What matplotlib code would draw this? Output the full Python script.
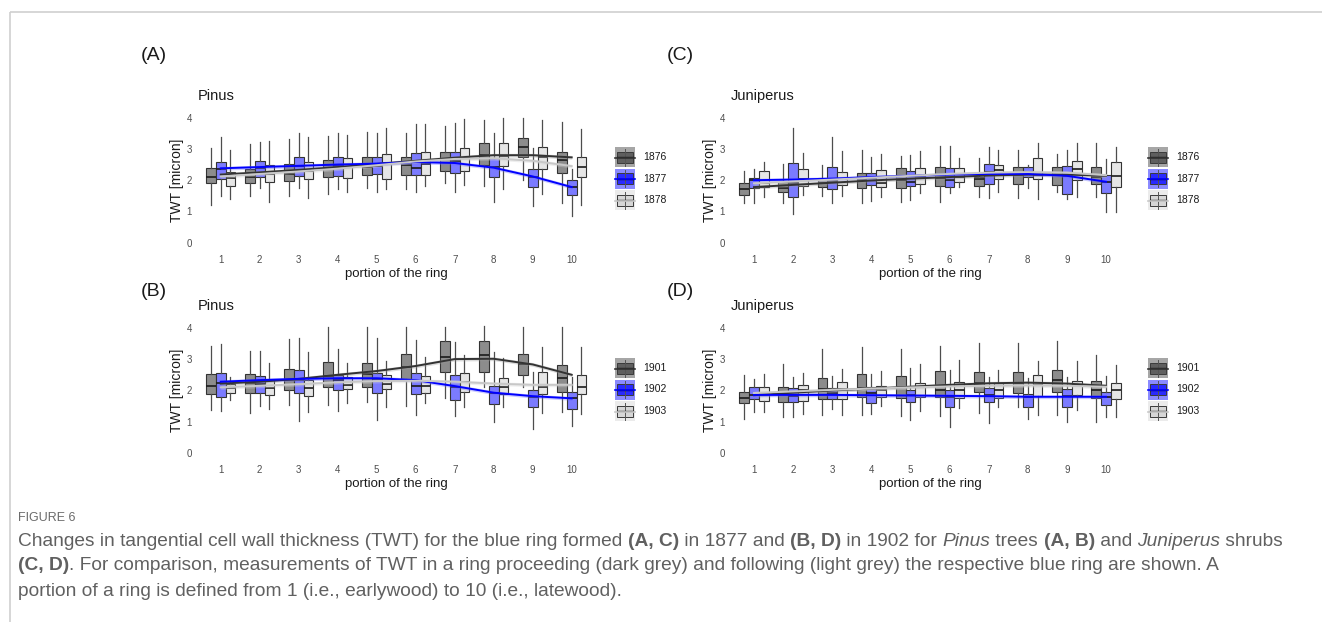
import matplotlib
matplotlib.use("Agg")
import matplotlib.pyplot as plt
from matplotlib.font_manager import FontProperties

plt.rcParams['font.family'] = ['Liberation Sans', 'DejaVu Sans']

W, H = 1322, 622

portions = [1, 2, 3, 4, 5, 6, 7, 8, 9, 10]

# box stats per portion: (lower whisker, q1, median, q3, upper whisker)
# (A) Pinus, 1876 / 1877 / 1878
A_1876 = [(1.21, 1.90, 2.09, 2.40, 3.04), (1.49, 1.90, 2.11, 2.35, 3.16), (1.49, 1.97, 2.19, 2.51, 3.31),
          (1.55, 2.09, 2.40, 2.65, 3.41), (1.74, 2.17, 2.43, 2.73, 3.55), (1.72, 2.17, 2.49, 2.73, 3.52),
          (1.90, 2.29, 2.67, 2.91, 3.73), (1.81, 2.49, 2.81, 3.20, 3.93), (2.00, 2.75, 3.05, 3.34, 3.98),
          (1.26, 2.24, 2.65, 2.91, 3.87)]
A_1877 = [(1.49, 2.03, 2.36, 2.57, 3.37), (1.74, 2.11, 2.40, 2.62, 3.23), (1.74, 2.14, 2.45, 2.73, 3.52),
          (1.71, 2.14, 2.45, 2.73, 3.50), (1.63, 2.20, 2.45, 2.73, 3.50), (1.63, 2.17, 2.38, 2.88, 3.80),
          (1.63, 2.23, 2.60, 2.91, 3.84), (1.31, 2.11, 2.43, 2.70, 3.52), (1.17, 1.79, 2.11, 2.35, 3.02),
          (0.85, 1.53, 1.79, 2.01, 2.35)]
A_1878 = [(1.41, 1.81, 2.08, 2.27, 2.97), (1.29, 1.93, 2.19, 2.49, 3.25), (1.42, 2.03, 2.30, 2.57, 3.39),
          (1.63, 2.06, 2.43, 2.70, 3.45), (1.71, 2.03, 2.54, 2.84, 3.68), (1.81, 2.17, 2.52, 2.91, 3.80),
          (1.85, 2.29, 2.70, 3.02, 3.95), (1.72, 2.45, 2.78, 3.18, 3.98), (1.56, 2.35, 2.73, 3.05, 3.93),
          (1.21, 2.09, 2.41, 2.73, 3.63)]
A_smooth = [[2.18, 2.25, 2.33, 2.42, 2.52, 2.62, 2.72, 2.80, 2.80, 2.73],
            [2.38, 2.42, 2.46, 2.50, 2.53, 2.58, 2.55, 2.40, 2.12, 1.78],
            [2.12, 2.20, 2.28, 2.37, 2.48, 2.60, 2.68, 2.70, 2.62, 2.45]]

# (B) Pinus, 1901 / 1902 / 1903
B_1901 = [(1.38, 1.89, 2.15, 2.51, 3.42), (1.29, 1.93, 2.23, 2.51, 3.27), (1.54, 2.02, 2.33, 2.68, 3.63),
          (1.54, 2.12, 2.46, 2.92, 4.01), (1.64, 2.12, 2.53, 2.89, 4.01), (1.51, 2.36, 2.74, 3.15, 4.01),
          (1.75, 2.60, 3.08, 3.58, 4.03), (2.12, 2.60, 3.13, 3.58, 4.05), (2.10, 2.49, 2.84, 3.15, 4.01),
          (1.33, 1.96, 2.39, 2.81, 4.01)]
B_1902 = [(1.36, 1.80, 2.25, 2.55, 3.48), (1.51, 1.91, 2.20, 2.46, 3.27), (1.04, 1.91, 2.33, 2.65, 3.68),
          (1.36, 2.02, 2.33, 2.49, 3.31), (1.06, 1.93, 2.36, 2.55, 3.66), (1.21, 1.88, 2.15, 2.57, 3.61),
          (1.19, 1.70, 2.10, 2.49, 3.55), (1.01, 1.57, 1.91, 2.15, 3.24), (0.76, 1.46, 1.80, 2.02, 2.60),
          (0.87, 1.41, 1.75, 1.96, 2.42)]
B_1903 = [(1.70, 1.91, 2.07, 2.20, 2.42), (1.41, 1.86, 2.09, 2.33, 2.89), (1.33, 1.82, 2.09, 2.33, 3.24),
          (1.59, 2.04, 2.18, 2.44, 2.86), (1.46, 2.04, 2.20, 2.49, 2.94), (1.59, 1.93, 2.15, 2.46, 3.08),
          (1.49, 1.96, 2.28, 2.55, 3.13), (1.46, 1.89, 2.12, 2.39, 3.02), (1.29, 1.89, 2.10, 2.60, 3.40),
          (1.25, 1.89, 2.10, 2.49, 3.37)]
B_smooth = [[2.22, 2.28, 2.37, 2.50, 2.62, 2.78, 3.00, 3.01, 2.83, 2.50],
            [2.28, 2.33, 2.37, 2.39, 2.39, 2.33, 2.14, 1.93, 1.82, 1.75],
            [2.10, 2.15, 2.20, 2.26, 2.30, 2.31, 2.28, 2.22, 2.18, 2.18]]

# (C) Juniperus, 1876 / 1877 / 1878
C_1876 = [(1.28, 1.53, 1.71, 1.90, 2.30), (1.26, 1.61, 1.74, 1.95, 2.51), (1.49, 1.77, 1.90, 2.06, 2.49),
          (1.26, 1.74, 2.00, 2.24, 2.97), (1.31, 1.74, 2.00, 2.38, 2.77), (1.31, 1.81, 2.06, 2.41, 3.09),
          (1.47, 1.81, 2.03, 2.11, 2.70), (1.42, 1.88, 2.17, 2.41, 2.97), (1.63, 1.85, 2.17, 2.41, 2.84),
          (1.47, 1.88, 2.11, 2.41, 3.18)]
C_1877 = [(1.28, 1.74, 2.00, 2.08, 2.35), (0.91, 1.47, 1.90, 2.56, 3.66), (1.26, 1.71, 1.97, 2.43, 3.37),
          (1.34, 1.85, 2.08, 2.24, 2.73), (1.37, 1.81, 1.95, 2.30, 2.81), (1.58, 1.77, 2.00, 2.38, 3.09),
          (1.42, 1.88, 2.27, 2.52, 3.07), (1.74, 2.11, 2.27, 2.41, 2.49), (1.39, 1.56, 2.13, 2.45, 2.97),
          (0.99, 1.58, 1.95, 2.17, 2.67)]
C_1878 = [(1.47, 1.79, 1.90, 2.29, 2.59), (1.53, 1.81, 2.03, 2.35, 2.88), (1.49, 1.85, 2.03, 2.27, 2.93),
          (1.47, 1.77, 1.92, 2.33, 2.84), (1.58, 1.88, 2.11, 2.38, 2.93), (1.77, 1.95, 2.11, 2.38, 2.72),
          (1.63, 2.03, 2.33, 2.49, 2.97), (1.39, 2.03, 2.17, 2.72, 3.18), (1.47, 2.01, 2.35, 2.61, 3.18),
          (0.99, 1.77, 2.13, 2.59, 3.07)]
C_smooth = [[1.78, 1.85, 1.92, 1.99, 2.05, 2.10, 2.15, 2.18, 2.18, 2.14],
            [2.00, 2.02, 2.05, 2.10, 2.14, 2.18, 2.20, 2.20, 2.14, 1.95],
            [1.90, 1.96, 2.02, 2.08, 2.14, 2.20, 2.24, 2.26, 2.24, 2.16]]

# (D) Juniperus, 1901 / 1902 / 1903
D_1901 = [(1.08, 1.61, 1.75, 1.96, 2.49), (1.15, 1.64, 1.91, 2.12, 2.84), (1.22, 1.72, 2.04, 2.41, 3.31),
          (1.22, 1.78, 2.07, 2.51, 3.37), (1.19, 1.75, 2.12, 2.46, 3.31), (1.19, 1.78, 2.02, 2.63, 3.42),
          (1.27, 1.96, 2.23, 2.60, 3.52), (1.46, 1.93, 2.25, 2.60, 3.52), (1.22, 1.96, 2.33, 2.65, 3.59),
          (1.01, 1.75, 2.02, 2.31, 3.13)]
D_1902 = [(1.33, 1.72, 1.86, 2.10, 2.36), (1.15, 1.64, 1.82, 2.07, 2.42), (1.40, 1.72, 1.91, 2.07, 2.46),
          (1.25, 1.61, 1.91, 2.10, 2.53), (1.06, 1.64, 1.86, 2.02, 2.73), (0.83, 1.49, 1.80, 2.02, 2.65),
          (0.98, 1.64, 1.86, 2.07, 2.42), (1.08, 1.46, 1.80, 1.89, 2.39), (1.01, 1.49, 1.82, 2.04, 2.42),
          (1.17, 1.54, 1.80, 1.96, 2.46)]
D_1903 = [(1.31, 1.68, 1.91, 2.12, 2.53), (1.25, 1.68, 2.02, 2.18, 2.55), (1.22, 1.72, 2.04, 2.28, 2.67),
          (1.51, 1.78, 2.02, 2.14, 2.62), (1.36, 1.78, 2.10, 2.25, 2.84), (1.43, 1.75, 2.02, 2.28, 2.97),
          (1.49, 1.75, 2.02, 2.25, 2.65), (1.22, 1.82, 2.18, 2.49, 2.95), (1.38, 1.86, 2.18, 2.31, 2.95),
          (1.15, 1.72, 2.02, 2.25, 2.81)]
D_smooth = [[1.85, 1.93, 2.00, 2.06, 2.12, 2.18, 2.23, 2.25, 2.22, 2.15],
            [1.86, 1.86, 1.86, 1.85, 1.84, 1.83, 1.82, 1.80, 1.80, 1.80],
            [1.92, 1.97, 2.02, 2.06, 2.10, 2.13, 2.15, 2.16, 2.15, 2.12]]

# half-width of the smoother's confidence band
band = 0.06

years_AC = ['1876', '1877', '1878']
years_BD = ['1901', '1902', '1903']

OFFSETS = [-0.25, 0.0, 0.25]
BOX_FILL = ['#8c8c8c', '#7b7bff', '#e6e6e6']
LINE_COL = ['#333333', '#0000ff', '#c8c8c8']
RIB_COL = ['#999999', '#6666ff', '#d0d0d0']
KEY_BG = ['#a6a6a6', '#8a8aff', '#ebebeb']
KEY_BOX = ['#5f5f5f', '#2a2aff', '#d6d6d6']
TICK_COL = '#4d4d4d'

fig = plt.figure(figsize=(W / 100, H / 100), dpi=100)


def px_axes(left, top, right, bottom):
    return fig.add_axes([left / W, 1 - bottom / H, (right - left) / W, (bottom - top) / H])


def to_stats(rows):
    return [dict(whislo=r[0], q1=r[1], med=r[2], q3=r[3], whishi=r[4], fliers=[]) for r in rows]


def draw_panel(ax, groups, smooths):
    for k, rows in enumerate(groups):
        pos = [p + OFFSETS[k] for p in portions]
        ax.bxp(to_stats(rows), positions=pos, widths=0.25, patch_artist=True,
               showcaps=False, showfliers=False, manage_ticks=False,
               boxprops=dict(facecolor=BOX_FILL[k], edgecolor='#333333', linewidth=0.8),
               whiskerprops=dict(color='#4d4d4d', linewidth=0.9),
               medianprops=dict(color='#1a1a1a', linewidth=1.2))
    for k, sm in enumerate(smooths):
        ax.fill_between(portions, [s - band for s in sm], [s + band for s in sm],
                        color=RIB_COL[k], alpha=0.35, lw=0, zorder=3)
        ax.plot(portions, sm, color=LINE_COL[k], lw=1.4, zorder=4)
    ax.set_xlim(0.4, 10.6)
    ax.set_ylim(-0.2, 4.2)
    ax.set_xticks(portions)
    ax.set_yticks([0, 1, 2, 3, 4])
    ax.tick_params(length=0, labelsize=7, colors=TICK_COL, pad=4)
    for s in ax.spines.values():
        s.set_visible(False)
    ax.set_facecolor('none')
    ax.set_xlabel('portion of the ring', fontsize=9.5, color='#1a1a1a')
    ax.set_ylabel('TWT [micron]', fontsize=10, color='#1a1a1a')
    ax.xaxis.set_label_coords(0.5, -0.18)
    ax.xaxis.label.set_va('center')
    ax.yaxis.set_label_coords(-0.051, 0.5)
    ax.yaxis.label.set_va('center')


# overlay in pixel coordinates for borders, labels, legends, caption
ov = fig.add_axes([0, 0, 1, 1])
ov.set_xlim(0, W)
ov.set_ylim(H, 0)
ov.axis('off')

ov.plot([10, W], [12, 12], color='#cfcfcf', lw=1.2, solid_capstyle='butt')
ov.plot([10, 10], [12, H], color='#cfcfcf', lw=1.2, solid_capstyle='butt')

axA = px_axes(197.3, 111.4, 595.1, 249.0)
axB = px_axes(197.3, 321.4, 595.1, 459.6)
axC = px_axes(730.5, 111.4, 1129.5, 249.0)
axD = px_axes(730.5, 321.4, 1129.5, 459.6)

draw_panel(axA, [A_1876, A_1877, A_1878], A_smooth)
draw_panel(axB, [B_1901, B_1902, B_1903], B_smooth)
draw_panel(axC, [C_1876, C_1877, C_1878], C_smooth)
draw_panel(axD, [D_1901, D_1902, D_1903], D_smooth)

for lab, x, y in [('(A)', 154, 56), ('(B)', 154, 292), ('(C)', 680, 56), ('(D)', 680, 292)]:
    ov.text(x, y, lab, fontsize=14, ha='center', va='center', color='#1a1a1a')
for lab, x, y in [('Pinus', 198, 96), ('Pinus', 198, 306), ('Juniperus', 731, 96), ('Juniperus', 731, 306)]:
    ov.text(x, y, lab, fontsize=10.5, ha='left', va='center', color='#1a1a1a')


def draw_legend(cx, centers, labels):
    for k, (cy, lab) in enumerate(zip(centers, labels)):
        ov.add_patch(plt.Rectangle((cx - 10, cy - 10), 20, 20, facecolor=KEY_BG[k], edgecolor='none'))
        ov.plot([cx, cx], [cy - 8.5, cy + 8.5], color='#555555', lw=0.7)
        ov.add_patch(plt.Rectangle((cx - 8, cy - 5.5), 16, 11, facecolor=KEY_BOX[k],
                                   edgecolor='#3a3a3a', lw=0.7))
        ov.plot([cx - 8, cx + 8], [cy, cy], color='#1a1a1a', lw=1.0)
        ov.plot([cx - 10, cx + 10], [cy + 0.5, cy + 0.5], color=LINE_COL[k], lw=1.2)
        ov.text(cx + 18, cy, lab, fontsize=7.5, ha='left', va='center', color='#1a1a1a')


draw_legend(625, [157, 178.5, 200], years_AC)
draw_legend(1158, [157, 178.5, 200], years_AC)
draw_legend(625, [368, 389.5, 411], years_BD)
draw_legend(1158, [368, 389.5, 411], years_BD)

# caption
cap_fam = ['Liberation Sans', 'DejaVu Sans']
cap_col = '#606060'
caption = [
    [("Changes in tangential cell wall thickness (TWT) for the blue ring formed ", 'n'), ("(A, C)", 'b'),
     (" in 1877 and ", 'n'), ("(B, D)", 'b'), (" in 1902 for ", 'n'), ("Pinus", 'i'), (" trees ", 'n'),
     ("(A, B)", 'b'), (" and ", 'n'), ("Juniperus", 'i'), (" shrubs", 'n')],
    [("(C, D)", 'b'), (". For comparison, measurements of TWT in a ring proceeding (dark grey) and following "
                       "(light grey) the respective blue ring are shown. A", 'n')],
    [("portion of a ring is defined from 1 (i.e., earlywood) to 10 (i.e., latewood).", 'n')],
]

renderer = fig.canvas.get_renderer()


def fprop(style, size):
    return FontProperties(family=cap_fam, size=size,
                          weight='bold' if style == 'b' else 'normal',
                          style='italic' if style == 'i' else 'normal')


def run_width(s, style, size):
    fp = fprop(style, size)
    w = renderer.get_text_width_height_descent('x' + s + 'x', fp, False)[0]
    wx = renderer.get_text_width_height_descent('xx', fp, False)[0]
    return w - wx


base = 12
w1 = sum(run_width(s, st, base) for s, st in caption[0])
cap_size = base * 1269 / w1

ov.text(18, 518, 'FIGURE 6', fontsize=9, color='#6b6b6b', ha='left', va='center',
        family=cap_fam)
for line, yc in zip(caption, [541, 566, 591]):
    x = 18
    for s, st in line:
        ov.text(x, yc + 4.5, s, fontproperties=fprop(st, cap_size), color=cap_col,
                ha='left', va='baseline')
        x += run_width(s, st, cap_size)

fig.savefig('out.png', dpi=100)
